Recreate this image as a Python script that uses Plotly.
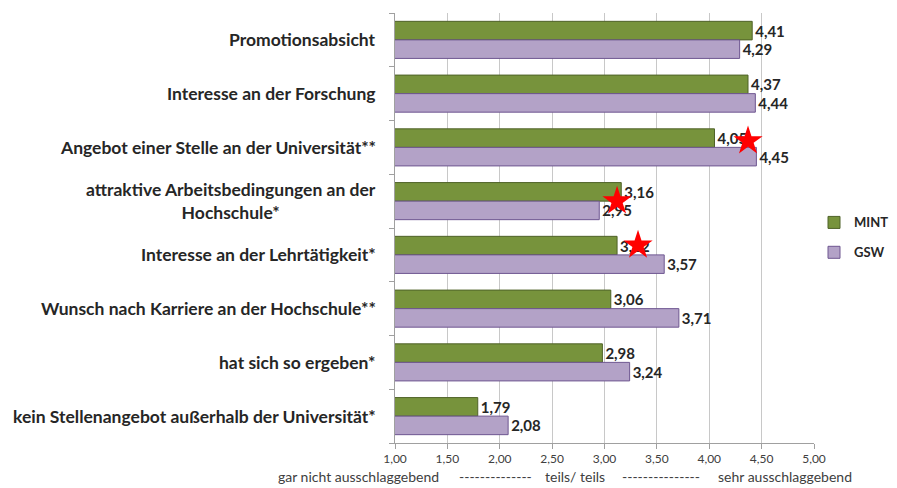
import plotly.graph_objects as go

categories = [
    "Promotionsabsicht",
    "Interesse an der Forschung",
    "Angebot einer Stelle an der Universität**",
    "attraktive Arbeitsbedingungen an der<br>Hochschule*",
    "Interesse an der Lehrtätigkeit*",
    "Wunsch nach Karriere an der Hochschule**",
    "hat sich so ergeben*",
    "kein Stellenangebot außerhalb der Universität*",
]
mint = [4.41, 4.37, 4.05, 3.16, 3.12, 3.06, 2.98, 1.79]
gsw = [4.29, 4.44, 4.45, 2.95, 3.57, 3.71, 3.24, 2.08]

# decorative red stars (category index, x value, vertical offset within group)
star_idx = [2, 3, 4]
star_x = [4.37, 3.12, 3.32]
star_off = [-0.12, 0.0, -0.18]

tick_vals = [1.0, 1.5, 2.0, 2.5, 3.0, 3.5, 4.0, 4.5, 5.0]
scale_texts = ["gar nicht ausschlaggebend", "--------------", "teils/ teils",
               "---------------", "sehr ausschlaggebend"]
scale_pos = [-0.088, 0.239, 0.430, 0.635, 0.931]

FONT = "Lato, 'Open Sans', sans-serif"

fig = go.Figure()
fig.add_trace(go.Bar(
    y=list(range(len(categories))), x=mint, orientation="h", name="MINT",
    legendgroup="a",
    marker=dict(color="#77933C", line=dict(color="#4F6228", width=1)),
    text=[f"{v:.2f}".replace(".", ",") for v in mint],
    textposition="outside", cliponaxis=False, constraintext="none",
    textfont=dict(family=FONT, size=15, color="#262626", weight="bold"),
))
fig.add_trace(go.Bar(
    y=list(range(len(categories))), x=gsw, orientation="h", name="GSW",
    legendgroup="b",
    marker=dict(color="#B3A2C7", line=dict(color="#6E5690", width=1)),
    text=[f"{v:.2f}".replace(".", ",") for v in gsw],
    textposition="outside", cliponaxis=False, constraintext="none",
    textfont=dict(family=FONT, size=15, color="#262626", weight="bold"),
))

fig.add_trace(go.Scatter(
    x=star_x, y=[i + o for i, o in zip(star_idx, star_off)], mode="markers",
    showlegend=False, hoverinfo="skip", cliponaxis=False,
    marker=dict(symbol="star", size=22, color="#FF0000", line=dict(width=0)),
))

for i, c in enumerate(categories):
    fig.add_annotation(
        xref="paper", yref="y", x=-0.04, y=i, xanchor="right", yanchor="middle",
        text=c, align="center", showarrow=False,
        font=dict(family=FONT, size=17.5, color="#262626", weight="bold"),
    )

for t, p in zip(scale_texts, scale_pos):
    fig.add_annotation(
        xref="paper", yref="paper", x=p, y=-0.077, xanchor="center", yanchor="middle",
        text=t, showarrow=False, font=dict(family=FONT, size=14, color="#404040"),
    )

fig.update_layout(
    width=889, height=480,
    margin=dict(l=387, r=83, t=5, b=45, autoexpand=False),
    paper_bgcolor="white", plot_bgcolor="white",
    barmode="group", bargap=0.31, bargroupgap=0.0,
    separators=",.",
    font=dict(family=FONT, size=12, color="#262626"),
    showlegend=True,
    legend=dict(x=1.0, y=0.478, xanchor="left", yanchor="middle",
                traceorder="grouped", tracegroupgap=10,
                font=dict(family=FONT, size=13, color="#262626", weight="bold"),
                itemwidth=30, bgcolor="rgba(0,0,0,0)"),
    xaxis=dict(range=[1, 5], tickvals=tick_vals, tickformat=".2f",
               showgrid=True, gridcolor="#C8C8C8", gridwidth=1,
               showline=True, linecolor="#A0A0A0", ticks="outside", ticklen=5,
               tickcolor="#A0A0A0", zeroline=False,
               tickfont=dict(family=FONT, size=12, color="#404040")),
    yaxis=dict(range=[len(categories) - 0.5, -0.5], showline=True, linecolor="#A0A0A0",
               ticks="outside", ticklen=5, tickcolor="#A0A0A0",
               tickvals=[k + 0.5 for k in range(-1, len(categories))],
               showticklabels=False, showgrid=False, zeroline=False),
)

fig.write_html("out.html")
